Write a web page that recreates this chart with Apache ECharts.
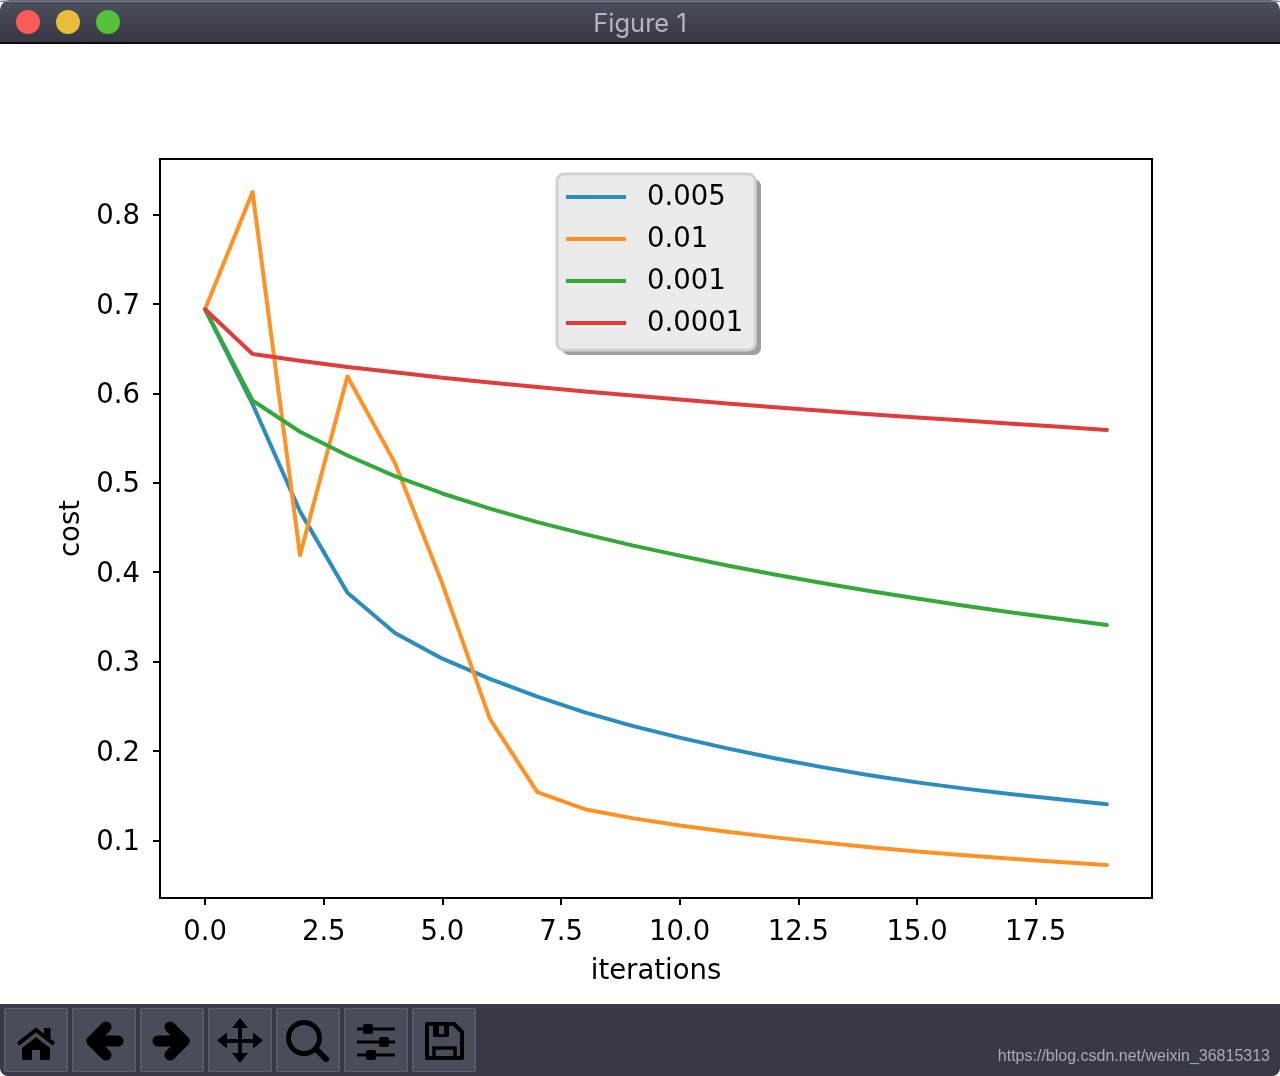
<!DOCTYPE html>
<html>
<head>
<meta charset="utf-8">
<style>html,body{margin:0;padding:0;background:#fff}#c{width:1280px;height:1076px}</style>
<script src="https://cdn.jsdelivr.net/npm/echarts@6/dist/echarts.min.js"></script>
</head>
<body>
<div id="c"></div>
<script>
const iterations = [0,1,2,3,4,5,6,7,8,9,10,11,12,13,14,15,16,17,18,19];
const lr0005 = [0.694,0.588,0.468,0.377,0.332,0.3033,0.2808,0.2608,0.2433,0.2282,0.2150,0.2030,0.1920,0.1820,0.1730,0.1650,0.1580,0.1518,0.1460,0.1405];
const lr001 = [0.694,0.825,0.419,0.619,0.522,0.387,0.236,0.154,0.135,0.1250,0.1167,0.1097,0.1035,0.0979,0.0925,0.0878,0.0835,0.0796,0.0760,0.0727];
const lr0001 = [0.694,0.592,0.5570,0.5305,0.5075,0.4880,0.4710,0.4560,0.4425,0.4300,0.4185,0.4075,0.3975,0.3880,0.3790,0.3705,0.3625,0.3550,0.3480,0.3410];
const lr00001 = [0.694,0.6440,0.6365,0.6295,0.6235,0.6175,0.6120,0.6070,0.6020,0.5975,0.5930,0.5885,0.5845,0.5805,0.5765,0.5730,0.5695,0.5660,0.5625,0.5590];
const seriesNames = ['0.005','0.01','0.001','0.0001'];
const seriesValues = [lr0005, lr001, lr0001, lr00001];
const seriesColors = ['#2b8cbe','#ff9224','#35a83a','#e03c3c'];
const xTicks = [0,2.5,5,7.5,10,12.5,15,17.5];
const yTicks = [0.1,0.2,0.3,0.4,0.5,0.6,0.7,0.8];

const font = '"DejaVu Sans"';
const fs = 27.5;
const chart = echarts.init(document.getElementById('c'), null, {renderer:'canvas'});

function btn(x){
  return {type:'rect',shape:{x:x+0.5,y:1008.5,width:63,height:63},style:{fill:'#494c59',stroke:'#5e616c',lineWidth:1},silent:true,z:5};
}
function fillPoly(points,color){
  return {type:'polygon',shape:{points},style:{fill:color||'#000'},silent:true,z:6};
}
function strokeLine(points,w,cap,join){
  return {type:'polyline',shape:{points},style:{fill:'none',stroke:'#000',lineWidth:w,lineCap:cap||'butt',lineJoin:join||'miter'},silent:true,z:6};
}
function box(x,y,w,h,r,color){
  return {type:'rect',shape:{x,y,width:w,height:h,r:r||0},style:{fill:color||'#000'},silent:true,z:6};
}

const chrome = [
  {type:'rect',shape:{x:0,y:0,width:1280,height:43,r:[10,10,0,0]},
   style:{fill:new echarts.graphic.LinearGradient(0,0,0,1,[{offset:0,color:'#4c4f5c'},{offset:1,color:'#363944'}])},silent:true,z:5},
  {type:'rect',shape:{x:0,y:0.5,width:1280,height:1.5,r:[10,10,0,0]},style:{fill:'#7a7c85'},silent:true,z:5},
  {type:'rect',shape:{x:0,y:42,width:1280,height:2},style:{fill:'#0c0c10'},silent:true,z:5},
  {type:'circle',shape:{cx:28,cy:22,r:12},style:{fill:'#fd5b57'},silent:true,z:6},
  {type:'circle',shape:{cx:68,cy:22,r:12},style:{fill:'#e8bd3a'},silent:true,z:6},
  {type:'circle',shape:{cx:108,cy:22,r:12},style:{fill:'#55c13a'},silent:true,z:6},
  {type:'text',x:640,y:24,style:{text:'Figure 1',fill:'#b4b6bc',font:'25.5px Inter',align:'center',verticalAlign:'middle'},silent:true,z:6},
  {type:'rect',shape:{x:0,y:1004,width:1280,height:72,r:[0,0,8,8]},style:{fill:'#373a46'},silent:true,z:4},
  btn(4),btn(72),btn(140),btn(208),btn(276),btn(344),btn(412),
  // legend drop shadow
  {type:'rect',shape:{x:562,y:179,width:199,height:176,r:7},style:{fill:'#9f9f9f'},silent:true,z:3},
  // home
  strokeLine([[18,1044],[36,1030],[54,1044]],4),
  fillPoly([[36,1037],[50,1048],[50,1060],[40,1060],[40,1050],[32,1050],[32,1060],[22,1060],[22,1048]]),
  fillPoly([[44,1028],[50.5,1028],[50.5,1040],[44,1035]]),
  // back
  strokeLine([[92,1041],[118,1041]],11,'round'),
  strokeLine([[106,1027],[92,1041],[106,1055]],11,'round','round'),
  // forward
  strokeLine([[184,1041],[158,1041]],11,'round'),
  strokeLine([[170,1027],[184,1041],[170,1055]],11,'round','round'),
  // move
  strokeLine([[226,1041],[254,1041]],4),
  strokeLine([[240,1027],[240,1055]],4),
  fillPoly([[240,1018],[248,1028],[232,1028]]),
  fillPoly([[240,1063],[248,1053],[232,1053]]),
  fillPoly([[217,1040.5],[227,1032.5],[227,1048.5]]),
  fillPoly([[263,1040.5],[253,1032.5],[253,1048.5]]),
  // zoom
  {type:'circle',shape:{cx:304,cy:1038,r:15.5},style:{fill:'none',stroke:'#000',lineWidth:5},silent:true,z:6},
  strokeLine([[316,1049],[326,1059]],6,'round'),
  // sliders
  strokeLine([[357,1029],[395,1029]],3),
  strokeLine([[357,1042],[395,1042]],3),
  strokeLine([[357,1055],[395,1055]],3),
  box(363,1024,10,10,2),
  box(379,1037,10,10,2),
  box(366,1050,10,10,2),
  // save
  {type:'polygon',shape:{points:[[427,1024],[454,1024],[462,1032],[462,1058],[427,1058]]},style:{fill:'none',stroke:'#000',lineWidth:4,lineJoin:'round'},silent:true,z:6},
  box(433,1024,16,13,1),
  box(439,1026,5,8,0,'#494c59'),
  strokeLine([[434,1059],[434,1048],[455,1048],[455,1059]],3.5),
  {type:'text',x:1270,y:1057,style:{text:'https://blog.csdn.net/weixin_36815313',fill:'#a9abb1',font:'16px "Liberation Sans"',align:'right',verticalAlign:'middle'},silent:true,z:6}
];

chart.setOption({
  animation:false,
  backgroundColor:'#fff',
  textStyle:{fontFamily:font},
  grid:{left:160,right:128,top:159,bottom:178,show:true,borderColor:'#000',borderWidth:2,backgroundColor:'#fff',containLabel:false},
  legend:{
    left:557,top:174,orient:'vertical',
    data:seriesNames.map(n=>({name:n,icon:'rect'})),
    itemWidth:60,itemHeight:4,itemGap:2,
    padding:[3,12,7,9],
    backgroundColor:'#ebebeb',borderColor:'#d2d2d2',borderWidth:3,borderRadius:7,
    formatter:'{t|{name}}',
    textStyle:{color:'#000',fontFamily:font,fontSize:fs,
      rich:{t:{color:'#000',fontFamily:font,fontSize:fs,lineHeight:30,padding:[7,0,5,16]}}},
    selectedMode:false
  },
  xAxis:{
    type:'value',min:-0.95,max:19.95,position:'bottom',
    name:'iterations',nameLocation:'middle',nameGap:60,
    nameTextStyle:{color:'#000',fontSize:fs,fontFamily:font},
    axisLine:{show:false,onZero:false},splitLine:{show:false},
    axisTick:{show:true,length:7,lineStyle:{color:'#000',width:2},customValues:xTicks},
    axisLabel:{color:'#000',fontSize:fs,fontFamily:font,margin:21,customValues:xTicks,formatter:v=>v.toFixed(1)}
  },
  yAxis:{
    type:'value',min:0.0357,max:0.862,position:'left',
    name:'cost',nameLocation:'middle',nameGap:73,nameRotate:90,
    nameTextStyle:{color:'#000',fontSize:fs,fontFamily:font},
    axisLine:{show:false,onZero:false},splitLine:{show:false},
    axisTick:{show:true,length:7,lineStyle:{color:'#000',width:2},customValues:yTicks},
    axisLabel:{color:'#000',fontSize:fs,fontFamily:font,margin:20,verticalAlign:'top',lineHeight:5,customValues:yTicks,formatter:v=>v.toFixed(1)}
  },
  series:seriesNames.map((n,i)=>({
    name:n,type:'line',
    data:iterations.map((x,k)=>[x,seriesValues[i][k]]),
    showSymbol:false,symbol:'none',smooth:false,
    lineStyle:{color:seriesColors[i],width:4,cap:'round',join:'round'},
    itemStyle:{color:seriesColors[i]},
    emphasis:{disabled:true}
  })),
  tooltip:{show:false},
  graphic:{elements:chrome}
});
</script>
</body>
</html>
